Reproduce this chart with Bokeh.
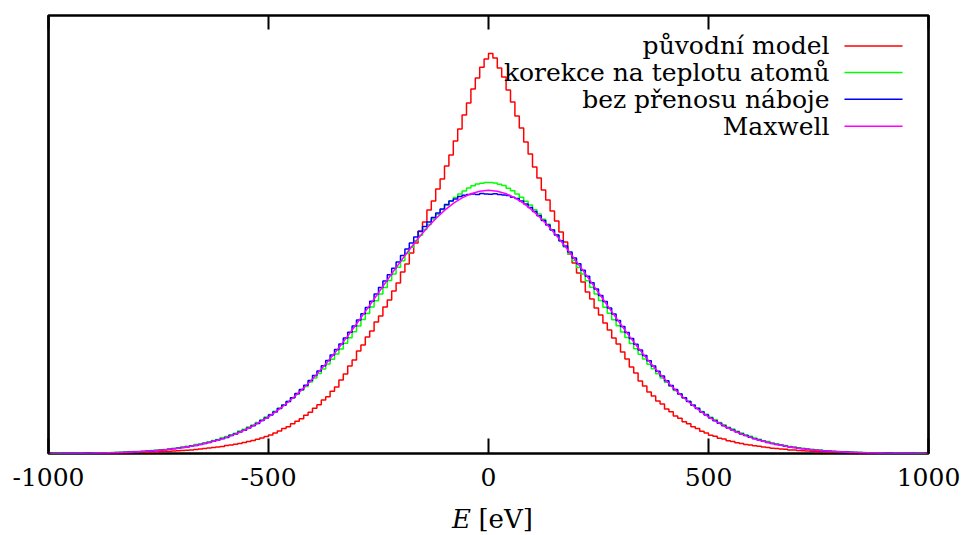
import numpy as np
from bokeh.plotting import figure
from bokeh.layouts import column
from bokeh.models import Range1d, LinearAxis, FixedTicker
from bokeh.core.properties import value
from bokeh.embed import file_html
from bokeh.resources import INLINE

# ---------------- data ----------------
BIN_START = -1000.0   # eV, left edge of first histogram bin
BIN_WIDTH = 10.0      # eV

x_ticks = [-1000, -500, 0, 500, 1000]
x_tick_labels = ["-1000", "-500", "0", "500", "1000"]
x_label_symbol = "E"
x_label_unit = "[eV]"

series_names = ["původní model", "korekce na teplotu atomů", "bez přenosu náboje", "Maxwell"]
series_colors = ["#ff0000", "#00ff00", "#0000ff", "#ff00ff"]

# "původní model" histogram, bins -1000..0 and 0..1000
puvodni_neg = [
    0.1, 0.1, 0.1, 0.1, 0.2, 0.1, 0.2, 0.2, 0.3, 0.2,
    0.3, 0.3, 0.4, 0.4, 0.5, 0.5, 0.6, 0.7, 0.8, 0.9,
    1.0, 1.1, 1.3, 1.4, 1.5, 1.7, 2.0, 2.2, 2.4, 2.8,
    3.0, 3.3, 3.6, 4.1, 4.6, 5.0, 5.5, 5.9, 6.6, 7.1,
    7.9, 8.4, 9.3, 10.1, 10.9, 12.1, 13.0, 14.3, 15.4, 17.1,
    18.4, 20.6, 22.4, 24.9, 26.8, 29.7, 32.2, 34.8, 38.3, 41.2,
    45.3, 48.7, 53.4, 56.8, 62.3, 66.6, 73.4, 79.6, 87.4, 93.6,
    102.4, 108.6, 116.5, 122.6, 131.4, 137.5, 146.6, 153.4, 162.5, 170.6,
    181.5, 189.6, 200.6, 210.5, 222.4, 231.6, 243.5, 252.5, 264.6, 274.4,
    287.5, 298.5, 312.6, 324.4, 338.5, 350.5, 364.4, 375.6, 386.3, 394.6,
]
puvodni_pos = [
    400.0, 395.4, 385.6, 376.4, 363.5, 351.6, 337.4, 325.5, 311.4, 299.6,
    286.4, 275.6, 263.5, 253.4, 242.5, 232.4, 221.5, 211.4, 199.5, 190.4,
    180.6, 171.5, 161.4, 154.5, 145.4, 138.6, 130.5, 123.4, 115.6, 109.5,
    101.6, 94.5, 86.6, 80.4, 72.6, 67.4, 61.6, 57.4, 52.6, 49.4,
    44.6, 41.8, 37.6, 35.3, 31.7, 29.8, 26.7, 24.9, 22.3, 20.6,
    18.3, 17.2, 15.3, 14.4, 12.8, 12.1, 10.8, 10.1, 9.1, 8.6,
    7.7, 7.3, 6.4, 6.1, 5.3, 5.1, 4.4, 4.2, 3.6, 3.4,
    2.9, 2.8, 2.4, 2.3, 1.8, 1.7, 1.5, 1.4, 1.2, 1.1,
    1.0, 0.9, 0.8, 0.7, 0.6, 0.5, 0.5, 0.4, 0.3, 0.3,
    0.3, 0.3, 0.2, 0.2, 0.2, 0.1, 0.1, 0.1, 0.1, 0.1,
]

# "korekce na teplotu atomů" histogram
korekce_neg = [
    0.1, 0.2, 0.2, 0.2, 0.3, 0.3, 0.4, 0.4, 0.5, 0.5,
    0.6, 0.7, 0.7, 0.8, 1.0, 1.1, 1.3, 1.4, 1.6, 1.9,
    2.1, 2.3, 2.7, 2.9, 3.3, 3.8, 4.1, 4.6, 5.3, 5.8,
    6.4, 7.2, 7.8, 8.9, 9.6, 10.7, 11.7, 13.0, 14.1, 15.7,
    17.0, 18.8, 20.3, 22.4, 24.2, 26.5, 28.5, 31.1, 33.5, 36.4,
    39.0, 42.3, 45.3, 48.8, 52.0, 55.8, 59.2, 63.3, 67.0, 71.4,
    75.4, 80.0, 84.5, 89.4, 94.2, 99.5, 104.6, 110.3, 115.8, 121.8,
    127.6, 133.9, 140.0, 146.5, 152.8, 159.6, 166.0, 172.9, 179.4, 186.3,
    192.8, 199.9, 206.2, 212.7, 218.2, 223.9, 229.1, 234.4, 239.2, 244.0,
    248.2, 252.5, 256.0, 259.6, 262.5, 265.4, 267.7, 269.5, 270.3, 271.1,
]
korekce_pos = [
    270.9, 270.5, 269.3, 267.9, 265.2, 262.7, 259.4, 256.2, 252.3, 248.4,
    243.8, 239.4, 234.2, 229.3, 223.7, 218.4, 212.5, 206.4, 199.7, 193.0,
    186.1, 179.6, 172.7, 166.2, 159.4, 153.0, 146.3, 140.2, 133.7, 127.8,
    121.6, 116.0, 110.1, 104.8, 99.3, 94.4, 89.2, 84.7, 79.8, 75.6,
    71.2, 67.2, 63.1, 59.4, 55.6, 52.2, 48.6, 45.5, 42.1, 39.2,
    36.2, 33.7, 30.9, 28.7, 26.3, 24.4, 22.2, 20.5, 18.6, 17.2,
    15.5, 14.3, 12.8, 11.9, 10.5, 9.8, 8.7, 8.0, 7.0, 6.6,
    5.7, 5.3, 4.6, 4.2, 3.6, 3.4, 2.8, 2.7, 2.2, 2.1,
    1.7, 1.7, 1.3, 1.3, 1.0, 1.0, 0.8, 0.7, 0.6, 0.6,
    0.5, 0.5, 0.4, 0.4, 0.3, 0.3, 0.2, 0.2, 0.2, 0.1,
]

# "bez přenosu náboje" histogram
bez_neg = [
    0.1, 0.1, 0.1, 0.2, 0.2, 0.2, 0.3, 0.3, 0.4, 0.4,
    0.5, 0.6, 0.6, 0.7, 0.8, 1.0, 1.1, 1.2, 1.4, 1.6,
    1.8, 2.1, 2.3, 2.6, 3.0, 3.3, 3.8, 4.2, 4.8, 5.3,
    5.9, 6.6, 7.4, 8.1, 9.1, 10.0, 11.1, 12.2, 13.5, 14.8,
    16.1, 17.9, 19.6, 21.4, 23.2, 25.6, 27.8, 30.1, 32.9, 35.5,
    38.4, 41.6, 44.9, 48.3, 51.9, 55.8, 59.9, 64.0, 68.3, 72.9,
    77.9, 82.6, 87.8, 92.9, 98.5, 104.0, 109.6, 115.5, 121.3, 127.4,
    133.5, 139.7, 146.0, 152.2, 159.6, 166.0, 172.4, 178.8, 185.2, 191.5,
    198.0, 204.5, 210.5, 216.5, 222.0, 227.0, 231.5, 236.0, 240.5, 244.5,
    249.0, 252.5, 254.6, 257.1, 258.2, 258.9, 259.6, 259.1, 260.1, 259.6,
]
bez_pos = [
    259.3, 259.8, 259.0, 258.4, 257.9, 256.2, 255.0, 252.4, 249.6, 246.1,
    241.9, 237.8, 233.1, 228.6, 223.4, 218.4, 212.8, 207.5, 201.6, 195.6,
    189.7, 183.3, 177.2, 170.8, 164.6, 158.1, 151.9, 145.6, 139.4, 133.1,
    127.0, 121.1, 115.0, 109.3, 103.6, 98.0, 92.7, 87.4, 82.3, 77.5,
    72.8, 68.1, 63.9, 59.6, 55.7, 51.9, 48.2, 44.9, 41.5, 38.5,
    35.5, 32.8, 30.2, 27.8, 25.5, 23.5, 21.4, 19.6, 17.9, 16.3,
    14.8, 13.5, 12.2, 11.1, 10.0, 9.0, 8.2, 7.3, 6.6, 5.9,
    5.3, 4.8, 4.2, 3.8, 3.3, 2.9, 2.6, 2.3, 2.0, 1.8,
    1.6, 1.4, 1.2, 1.1, 0.9, 0.8, 0.7, 0.6, 0.6, 0.5,
    0.4, 0.4, 0.3, 0.3, 0.2, 0.2, 0.2, 0.1, 0.1, 0.1,
]

# Maxwell curve sampled every 20 eV from -1000 to 1000
maxwell_E = list(range(-1000, 1001, 20))
maxwell_y = [
    0.1, 0.1, 0.2, 0.25, 0.3, 0.4, 0.6, 0.8, 1.0, 1.3,
    1.7, 2.2, 2.8, 3.5, 4.4, 5.5, 6.9, 8.5, 10.5, 12.8,
    15.4, 18.6, 22.3, 26.5, 31.3, 36.7, 42.9, 49.7, 57.3, 65.6,
    74.6, 84.4, 94.8, 105.8, 117.4, 129.5, 141.9, 154.5, 167.1, 179.7,
    191.9, 203.8, 215.0, 225.4, 234.8, 243.1, 250.1, 255.6, 259.7, 262.2,
    263.3,
    262.2, 259.7, 255.6, 250.1, 243.1, 234.8, 225.4, 215.0, 203.8, 191.9,
    179.7, 167.1, 154.5, 141.9, 129.5, 117.4, 105.8, 94.8, 84.4, 74.6,
    65.6, 57.3, 49.7, 42.9, 36.7, 31.3, 26.5, 22.3, 18.6, 15.4,
    12.8, 10.5, 8.5, 6.9, 5.5, 4.4, 3.5, 2.8, 2.2, 1.7,
    1.3, 1.0, 0.8, 0.6, 0.4, 0.3, 0.25, 0.2, 0.1, 0.1,
]

# ---------------- build ----------------
hist_series = [puvodni_neg + puvodni_pos, korekce_neg + korekce_pos, bez_neg + bez_pos]
n_bins = len(hist_series[0])
bin_centers = BIN_START + BIN_WIDTH * (np.arange(n_bins) + 0.5)

FONT = "DejaVu Serif"
FS_TICK = "25px"
FS_LEG = "25px"

MAIN_H = 500
p = figure(width=966, height=MAIN_H,
           x_range=Range1d(-1000, 1000), y_range=Range1d(0, 438),
           output_backend="svg", toolbar_location=None,
           y_axis_location=None,
           min_border_left=48, min_border_right=38,
           min_border_top=15, min_border_bottom=MAIN_H - 15 - 438)
p.xgrid.visible = False
p.ygrid.visible = False
p.background_fill_color = "white"
p.border_fill_color = "white"
p.outline_line_color = "black"
p.outline_line_width = 2.7

ax = p.xaxis[0]
ax.ticker = FixedTicker(ticks=x_ticks)
ax.major_label_overrides = {t: s for t, s in zip(x_ticks, x_tick_labels)}
ax.major_label_text_font = FONT
ax.major_label_text_font_size = FS_TICK
ax.major_label_text_color = "black"
ax.major_label_standoff = 14
ax.major_tick_in = 15
ax.major_tick_out = 0
ax.major_tick_line_width = 2
ax.major_tick_line_color = "black"
ax.minor_tick_line_color = None
ax.axis_line_color = None

top = LinearAxis(ticker=FixedTicker(ticks=x_ticks),
                 major_label_overrides={t: "" for t in x_ticks},
                 major_label_text_font_size="0px",
                 major_label_standoff=0,
                 major_tick_in=14, major_tick_out=0,
                 major_tick_line_width=2,
                 minor_tick_line_color=None, axis_line_color=None)
p.add_layout(top, "above")

for vals, color in zip(hist_series, series_colors[:3]):
    p.step(x=bin_centers, y=vals, mode="center", line_color=color, line_width=1.5)
p.line(x=maxwell_E, y=maxwell_y, line_color=series_colors[3], line_width=1.5)

# legend (text right-aligned, sample line to the right)
legend_text_x = 775
legend_line_x0, legend_line_x1 = 809, 941
legend_rows_y = [407.6, 381.0, 354.3, 327.3]
for name, color, yy in zip(series_names, series_colors, legend_rows_y):
    p.text(x=[legend_text_x], y=[yy], text=[name], text_align="right",
           text_baseline="middle", text_font=value(FONT),
           text_font_size=FS_LEG, text_color="black")
    p.segment(x0=[legend_line_x0], y0=[yy], x1=[legend_line_x1], y1=[yy],
              line_color=color, line_width=1.5)

# x-axis title "E [eV]" in a thin strip below the main plot
TITLE_H = 535 - MAIN_H
q = figure(width=966, height=TITLE_H, x_range=Range1d(0, 966), y_range=Range1d(0, TITLE_H),
           output_backend="svg", toolbar_location=None,
           x_axis_location=None, y_axis_location=None,
           min_border=0, outline_line_color=None)
q.xgrid.visible = False
q.ygrid.visible = False
q.background_fill_color = "white"
q.border_fill_color = "white"
q.text(x=[443], y=[16.5], text=[x_label_symbol], text_align="left",
       text_baseline="middle", text_font=value(FONT), text_font_style="italic",
       text_font_size="26px", text_color="black")
q.text(x=[472], y=[16.5], text=[x_label_unit], text_align="left",
       text_baseline="middle", text_font=value(FONT),
       text_font_size="26px", text_color="black")

layout = column(p, q, spacing=0)
open("out.html", "w").write(file_html(layout, INLINE))
